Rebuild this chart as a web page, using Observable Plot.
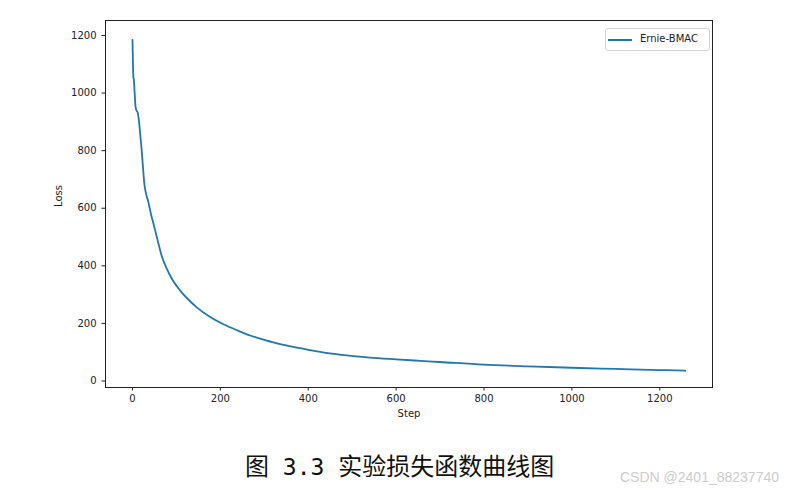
<!DOCTYPE html>
<html>
<head>
<meta charset="utf-8">
<script src="https://cdn.jsdelivr.net/npm/d3@7"></script>
<script src="https://cdn.jsdelivr.net/npm/@observablehq/plot@0.6"></script>
<style>
  html, body { margin: 0; padding: 0; background: #fff; }
  #wrap { position: relative; width: 795px; height: 493px; overflow: hidden; background: #fff; }
  #chart { position: absolute; left: 0; top: 0; }
  #legend { position: absolute; left: 605px; top: 28px; width: 103px; height: 21px;
    border: 1px solid #d4d4d4; border-radius: 3px; background: rgba(255,255,255,0.8);
    font-family: "DejaVu Sans", sans-serif; font-size: 10px; color: #222; }
  #legend .sw { position: absolute; left: 2px; top: 10px; width: 24px; height: 2px; background: #1f77b4; }
  #legend .lb { position: absolute; left: 34px; top: 4px; white-space: nowrap; }
  #caption { position: absolute; left: 245px; top: 449px; white-space: pre;
    font-family: "Noto Sans CJK SC", sans-serif; font-size: 24px; color: #111; line-height: 32px; }
  #caption .num { font-family: "DejaVu Sans Mono", monospace; font-size: 23px; }
  #mark { position: absolute; left: 620px; top: 469px; white-space: nowrap;
    font-family: "Liberation Sans", sans-serif; font-size: 14px; color: #cdcdcd; }
</style>
</head>
<body>
<div id="wrap">
  <div id="chart"></div>
  <div id="legend"><div class="sw"></div><div class="lb">Ernie-BMAC</div></div>
  <div id="caption">图<span class="num"> 3.3 </span>实验损失函数曲线图</div>
  <div id="mark">CSDN @2401_88237740</div>
</div>
<script>
// Training steps and loss values
const steps = [0, 1, 2, 3, 5, 7, 9, 12, 15, 18, 21, 24, 27, 31, 36, 42, 48, 57, 67, 78, 90, 109, 127, 147, 175, 207, 240, 268, 300, 336, 382, 400, 440, 488, 540, 600, 655, 700, 800, 900, 1000, 1100, 1200, 1258];
const losses = [1185, 1110, 1054, 1048, 1000, 952, 940, 932, 900, 850, 800, 740, 685, 650, 622, 580, 545, 490, 432, 390, 354, 313, 283, 255, 224, 197, 175, 158, 143, 128, 114, 108, 98, 89, 81, 75, 70, 66, 57, 51, 46, 42, 38, 36];
const xTicks = [0, 200, 400, 600, 800, 1000, 1200];
const yTicks = [0, 200, 400, 600, 800, 1000, 1200];
const seriesName = "Ernie-BMAC";
const xLabel = "Step";
const yLabel = "Loss";

const data = steps.map((s, i) => ({step: s, loss: losses[i], series: seriesName}));

const chart = Plot.plot({
  width: 795,
  height: 430,
  marginLeft: 105,
  marginRight: 83,
  marginTop: 20,
  marginBottom: 43,
  style: {fontFamily: "DejaVu Sans, sans-serif", fontSize: "10px", color: "#222", background: "#fff"},
  x: {domain: [-61.4, 1320], label: null},
  y: {domain: [-22.6, 1252], label: null},
  marks: [
    Plot.line(data, {x: "step", y: "loss", stroke: "#1f77b4", strokeWidth: 1.8, curve: "monotone-x"}),
    Plot.axisX({ticks: xTicks, tickSize: 3.5, tickPadding: 3.5, stroke: "#222", fill: "#222", fontSize: 10, tickFormat: d => String(d)}),
    Plot.axisY({ticks: yTicks, tickSize: 3.5, tickPadding: 5.5, stroke: "#222", fill: "#222", fontSize: 10, tickFormat: d => String(d)}),
    Plot.frame({stroke: "#222", strokeWidth: 1}),
    Plot.text([xLabel], {frameAnchor: "bottom", dy: 26, text: d => d, fontSize: 10, fill: "#222", lineAnchor: "middle"}),
    Plot.text([yLabel], {frameAnchor: "left", dx: -47, dy: 3, text: d => d, fontSize: 10, fill: "#222", rotate: -90, lineAnchor: "middle"})
  ]
});
document.getElementById("chart").appendChild(chart);
</script>
</body>
</html>
